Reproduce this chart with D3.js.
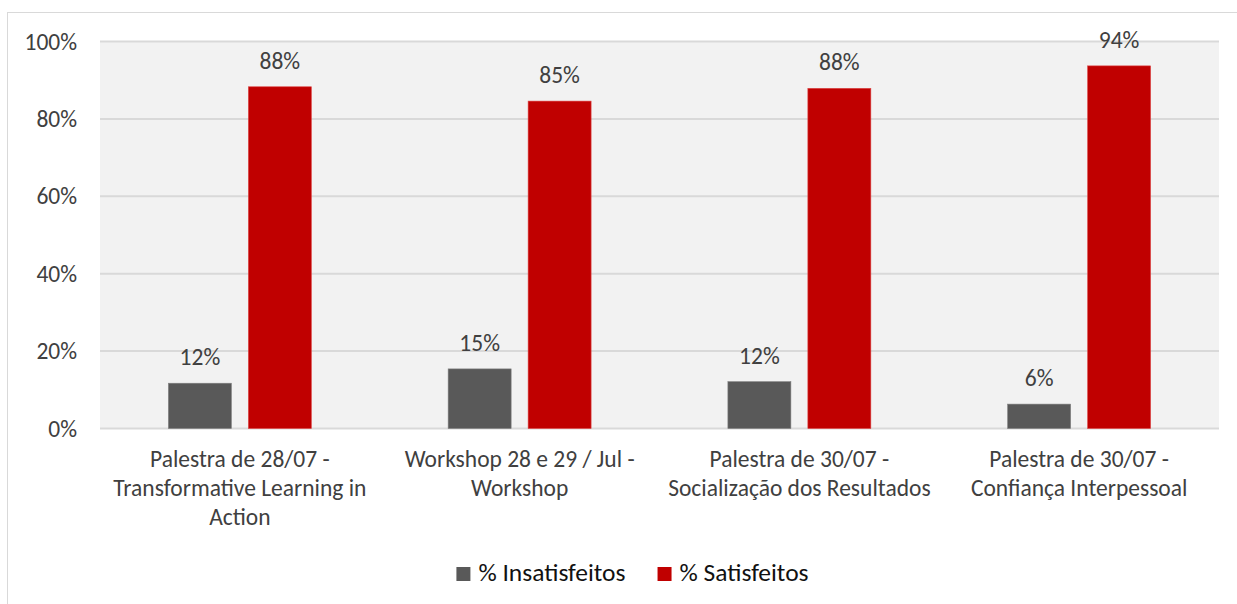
<!DOCTYPE html>
<html>
<head>
<meta charset="utf-8">
<script src="https://cdn.jsdelivr.net/npm/d3@7"></script>
<style>
  body { margin: 0; background: #fff; }
  svg text { font-family: Carlito, Calibri, Lato, sans-serif; }
</style>
</head>
<body>
<div id="bar"></div>
<script>
// dados
let categories = [
    "Palestra de 28/07 -|Transformative Learning in|Action",
    "Workshop 28 e 29 / Jul -|Workshop",
    "Palestra de 30/07 -|Socialização dos Resultados",
    "Palestra de 30/07 -|Confiança Interpessoal"
];
let seriesNames = ["% Insatisfeitos", "% Satisfeitos"];
let insatisfeitos = [11.7, 15.4, 12.1, 6.3];
let satisfeitos = [88.3, 84.6, 87.9, 93.7];
let yTicks = [0, 20, 40, 60, 80, 100];
let colors = ["#595959", "#c00000"];

class Bar {
    constructor(option) {
        for (let [key, value] of Object.entries(option)) {
            this[key] = value;
        }
        this.left = 100;
        this.right = 1219;
        this.top = 41.5;
        this.bottom = 428.5;
        this.fontSize = 23.5;
        this.creatSvg();
        this.creatG();
        this.creatRect();
        this.creatLegend();
    }
    creatSvg() {
        this.svg = d3.select(this.ele)
            .append('svg')
            .attr("width", this.width)
            .attr("height", this.height);
        // moldura
        this.svg.append("rect")
            .attr("x", 7.5).attr("y", 12.5)
            .attr("width", this.width + 10).attr("height", this.height + 10)
            .attr("fill", "none").attr("stroke", "#d9d9d9");
        this.svg.append("rect")
            .attr("x", this.left).attr("y", this.top)
            .attr("width", this.right - this.left).attr("height", this.bottom - this.top)
            .attr("fill", "#f2f2f2");
    }
    creatG() {
        this.y = d3.scaleLinear().domain([0, 100]).range([this.bottom, this.top]);
        this.x0 = d3.scaleBand()
            .domain(this.categories)
            .range([this.left, this.right])
            .paddingInner(0.489)
            .paddingOuter(0.2445);
        this.x1 = d3.scaleBand()
            .domain(this.series.map((d, i) => i))
            .range([0, this.x0.bandwidth()])
            .paddingInner(0.2125);

        // grade
        this.svg.append("g").selectAll("line")
            .data(yTicks)
            .enter().append("line")
            .attr("x1", this.left).attr("x2", this.right)
            .attr("y1", d => this.y(d)).attr("y2", d => this.y(d))
            .attr("stroke", "#d9d9d9").attr("stroke-width", 2);

        let yAxis = d3.axisLeft(this.y).tickValues(yTicks).tickFormat(d => d + "%").tickSize(0).tickPadding(23);
        let gy = this.svg.append("g")
            .attr("transform", `translate(${this.left},0)`)
            .call(yAxis);
        gy.select(".domain").remove();
        gy.selectAll("text").attr("font-size", this.fontSize).attr("fill", "#404040");

        let xAxis = d3.axisBottom(this.x0).tickSize(0).tickFormat("");
        let gx = this.svg.append("g")
            .attr("transform", `translate(0,${this.bottom})`)
            .call(xAxis);
        gx.select(".domain").remove();

        let _this = this;
        this.svg.append("g").selectAll("text")
            .data(this.categories)
            .enter().append("text")
            .attr("text-anchor", "middle")
            .attr("font-size", this.fontSize)
            .attr("fill", "#404040")
            .attr("transform", d => `translate(${_this.x0(d) + _this.x0.bandwidth() / 2},${_this.bottom + 38})`)
            .each(function(d) {
                d.split("|").forEach((line, i) => {
                    d3.select(this).append("tspan")
                        .attr("x", 0).attr("y", i * 29)
                        .text(line);
                });
            });
    }
    creatRect() {
        let _this = this;
        let groups = this.svg.append("g").selectAll("g")
            .data(this.categories)
            .enter().append("g")
            .attr("transform", d => `translate(${_this.x0(d)},0)`);
        groups.each(function(cat, ci) {
            let g = d3.select(this);
            _this.series.forEach((vals, si) => {
                let v = vals[ci];
                g.append("rect")
                    .attr("x", _this.x1(si))
                    .attr("y", _this.y(v))
                    .attr("width", _this.x1.bandwidth())
                    .attr("height", _this.bottom - _this.y(v))
                    .attr("fill", colors[si])
                    .attr("stroke", si === 0 ? "#7f7f7f" : "#d44")
                    .attr("stroke-width", 0.6);
                g.append("text")
                    .attr("x", _this.x1(si) + _this.x1.bandwidth() / 2)
                    .attr("y", _this.y(v) - 18)
                    .attr("text-anchor", "middle")
                    .attr("font-size", _this.fontSize)
                    .attr("fill", "#404040")
                    .text(Math.round(v) + "%");
            });
        });
    }
    creatLegend() {
        let lg = this.svg.append("g");
        let xPos = 0;
        let items = [];
        seriesNames.forEach((name, i) => {
            let it = lg.append("g");
            it.append("rect")
                .attr("x", 0).attr("y", -14)
                .attr("width", 14).attr("height", 14)
                .attr("fill", colors[i]);
            let t = it.append("text")
                .attr("x", 22).attr("y", 0)
                .attr("font-size", 25.5)
                .attr("fill", "#111")
                .text(name);
            let w = 22 + t.node().getComputedTextLength();
            items.push({ it: it, w: w });
        });
        let gap = 32;
        let total = d3.sum(items, d => d.w) + gap * (items.length - 1);
        xPos = 632.5 - total / 2;
        items.forEach(d => {
            d.it.attr("transform", `translate(${xPos},581)`);
            xPos += d.w + gap;
        });
    }
}

let Bars = new Bar({
    ele: document.getElementById('bar'),
    width: 1237,
    height: 604,
    categories: categories,
    series: [insatisfeitos, satisfeitos]
});
</script>
</body>
</html>
